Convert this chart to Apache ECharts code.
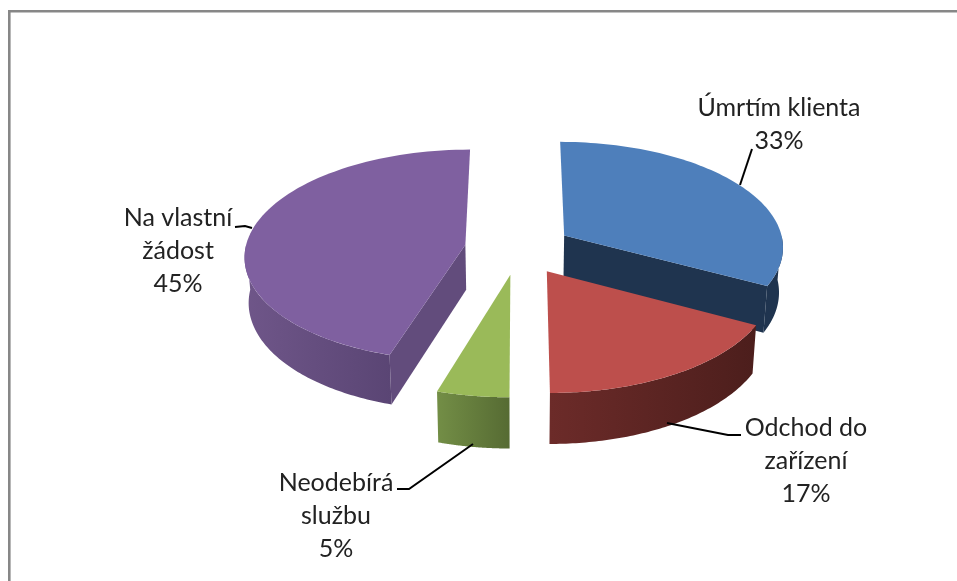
<!DOCTYPE html>
<html>
<head>
<meta charset="utf-8">
<style>html,body{margin:0;padding:0;background:#fff}#c{width:957px;height:581px}</style>
<script src="https://cdn.jsdelivr.net/npm/echarts@6/dist/echarts.min.js"></script>
</head>
<body>
<div id="c"></div>
<script>
const categories = ['Úmrtím klienta', 'Odchod do zařízení', 'Neodebírá službu', 'Na vlastní žádost'];
const shares = [32.8, 17.2, 4.7, 45.3];
const labelLines = [['Úmrtím klienta'], ['Odchod do', 'zařízení'], ['Neodebírá', 'službu'], ['Na vlastní', 'žádost']];

// STYLE
const topColors = ['#4E7FBB', '#BD4F4C', '#9ABA59', '#7F60A0'];
const sideStops = [['#1F344F', '#1F344F'], ['#6C2B29', '#4C1E1C'], ['#738E46', '#566B33'], ['#6F5689', '#5A4574']];
const wallColors = ['#1F344F', '#4C1E1C', '#566B33', '#624C7C'];

// LAYOUT (screen geometry of the projected pie)
const CX = 518.5, CY = 248.6, RX = 220, RY = 105.2, PERSP = 0.0975, EXPLODE = 0.245, DEPTH = 45, SHRINK = 0.985;
const labelCentres = [[779, 108], [806, 428], [336, 483], [178, 218]];
const labelStep = 32.8;
const leaders = [
  [[752, 149], [740, 185]],
  [[667, 423], [728, 435], [741, 435]],
  [[473, 444], [409, 489], [397, 489]],
  [[252, 228], [245, 226], [235, 227]]
];

function proj(X, Z) {
  const s = 1 / (1 - PERSP * Z);
  return [CX + RX * X * s, CY + RY * Z * s, s];
}
function base(p) {
  return [CX + (p[0] - CX) * SHRINK, p[1] + DEPTH * p[2]];
}
function renderItem(params, api) {
  const i = params.dataIndex;
  const total = shares.reduce((a, b) => a + b, 0);
  let before = 0;
  for (let k = 0; k < i; k++) before += shares[k];
  const a0 = before / total * 2 * Math.PI;
  const a1 = (before + api.value(0)) / total * 2 * Math.PI;
  const mid = (a0 + a1) / 2;
  const ox = Math.sin(mid) * EXPLODE, oz = -Math.cos(mid) * EXPLODE;
  const pt = a => proj(ox + Math.sin(a), oz - Math.cos(a));
  const apex = proj(ox, oz);
  const children = [];
  const N = 80;
  const arc = [];
  for (let k = 0; k <= N; k++) arc.push(pt(a0 + (a1 - a0) * k / N));

  // rim: the part of the arc facing the viewer
  const lo = Math.max(a0, Math.PI / 2), hi = Math.min(a1, 1.5 * Math.PI);
  if (hi > lo) {
    const up = [], down = [];
    for (let k = 0; k <= N; k++) {
      const p = pt(lo + (hi - lo) * k / N);
      up.push(p.slice(0, 2));
      down.unshift(base(p));
    }
    children.push({
      type: 'polygon',
      shape: { points: up.concat(down) },
      style: { fill: new echarts.graphic.LinearGradient(0, 0, 1, 0, [
        { offset: 0, color: sideStops[i][0] },
        { offset: 1, color: sideStops[i][1] }
      ]) }
    });
  }
  // cut faces that look towards the viewer
  const wall = a => {
    const p = pt(a);
    children.push({
      type: 'polygon',
      shape: { points: [apex.slice(0, 2), p.slice(0, 2), base(p), base(apex)] },
      style: { fill: wallColors[i] }
    });
  };
  if (Math.sin(a1) > 1e-6) wall(a1);
  if (Math.sin(a0) < -1e-6) wall(a0);
  // top surface
  children.push({
    type: 'polygon',
    shape: { points: [apex.slice(0, 2)].concat(arc.map(p => p.slice(0, 2))) },
    style: { fill: topColors[i] }
  });
  // leader
  children.push({
    type: 'polyline',
    shape: { points: leaders[i] },
    style: { stroke: '#000', lineWidth: 2, fill: null }
  });
  // label
  const lines = labelLines[i].concat([Math.round(api.value(0)) + '%']);
  lines.forEach((t, k) => {
    children.push({
      type: 'text',
      style: {
        text: t,
        x: labelCentres[i][0],
        y: labelCentres[i][1] + k * labelStep,
        align: 'center',
        verticalAlign: 'middle',
        fill: '#222',
        font: '25px Lato'
      }
    });
  });
  return { type: 'group', children };
}

const chart = echarts.init(document.getElementById('c'), null, { renderer: 'canvas' });
chart.setOption({
  animation: false,
  backgroundColor: '#fff',
  graphic: [
    { type: 'rect', shape: { x: 8, y: 10, width: 949, height: 2.6 }, style: { fill: '#878787' } },
    { type: 'rect', shape: { x: 8, y: 10, width: 2.6, height: 571 }, style: { fill: '#878787' } }
  ],
  series: [{
    type: 'custom',
    coordinateSystem: 'none',
    renderItem,
    silent: true,
    data: categories.map((name, i) => ({ name, value: [shares[i]] }))
  }]
});
</script>
</body>
</html>
